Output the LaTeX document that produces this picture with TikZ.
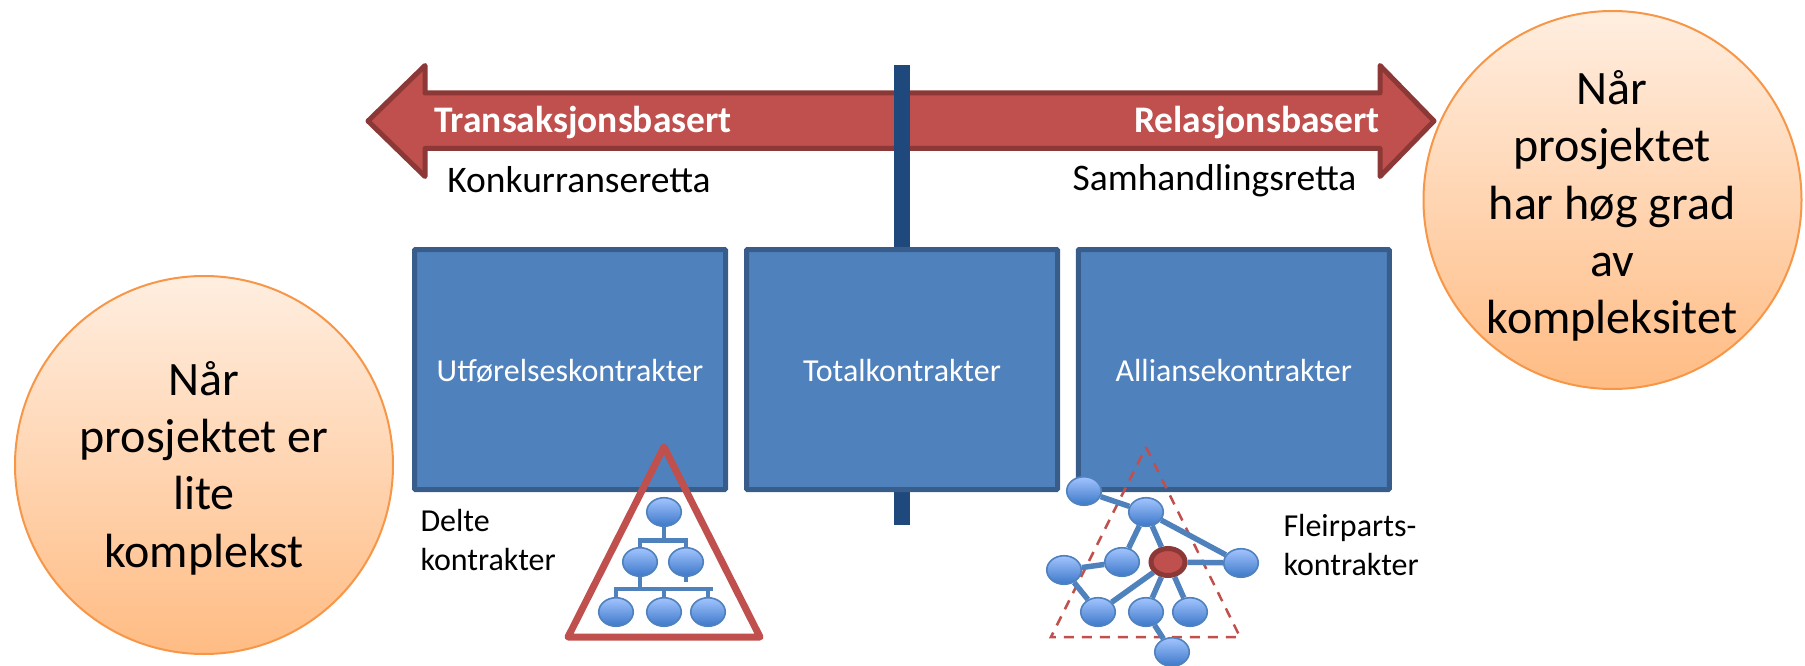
\documentclass[tikz,border=0pt]{standalone}
\usepackage{fontspec}
\setmainfont{Carlito}
\usetikzlibrary{positioning, calc, shapes.geometric}
\definecolor{boxblue}{RGB}{79,129,189}
\definecolor{boxline}{RGB}{56,93,138}
\definecolor{barblue}{RGB}{31,73,125}
\definecolor{arrowred}{RGB}{192,80,77}
\definecolor{arrowline}{RGB}{140,56,54}
\definecolor{nodetop}{RGB}{163,196,255}
\definecolor{nodebot}{RGB}{60,120,200}
\tikzset{
	kontrakt/.style={draw=boxline, fill=boxblue, line width=5pt, minimum width=311pt, minimum height=240pt, rounded corners=1pt},
	kontrakttekst/.style={text=white, font=\fontsize{32}{38}\selectfont},
	sirkel/.style={circle, draw={rgb,255:red,247;green,150;blue,70}, line width=2pt, top color={rgb,255:red,255;green,238;blue,224}, bottom color={rgb,255:red,255;green,188;blue,132}, minimum size=378pt, inner sep=0pt},
	sirkeltekst/.style={align=center, font=\fontsize{48}{57.4}\selectfont, inner sep=0pt},
	pil/.style={text=white, inner sep=0pt, font=\fontsize{37.5}{44}\selectfont\bfseries},
	merk/.style={inner sep=0pt, font=\fontsize{37.5}{44}\selectfont},
	liten/.style={align=left, font=\fontsize{32}{39}\selectfont},
	org/.style={ellipse, draw=boxblue, line width=1.6pt, top color=nodetop, bottom color=nodebot, minimum width=34.5pt, minimum height=28.5pt, inner sep=0pt},
	kjerne/.style={ellipse, draw=arrowline, fill=arrowred, line width=5pt, minimum width=34pt, minimum height=27pt, inner sep=0pt},
	kant/.style={draw=boxblue, line width=5.5pt},
	orgkant/.style={draw=boxblue, line width=4.5pt}
}
\begin{document}
\begin{tikzpicture}[x=1pt, y=-1pt]
	\useasboundingbox (0, 0) rectangle (1805, 666);
	\draw[arrowline, fill=arrowred, line width=5pt, line join=round] (368, 121) -- (425, 65.5) -- (425, 93) -- (1380, 93) -- (1380, 65.5) -- (1434, 121) -- (1380, 176.5) -- (1380, 148.5) -- (425, 148.5) -- (425, 176.5) -- cycle;
	\fill[barblue] (894, 65) rectangle (909.5, 525);
	\node[pil, anchor=west] (trans) at (434, 123) {Transaksjonsbasert};
	\node[pil, anchor=east] (rel) at (1380, 123) {Relasjonsbasert};
	\node[merk] (konk) at (579, 180) {Konkurranseretta};
	\node[merk] (samh) at (1214.5, 181) {Samhandlingsretta};
	\node[kontrakt] (utf) at (570, 369.5) {};
	\node[kontrakt] (tot) at (902, 369.5) {};
	\node[kontrakt] (all) at (1233.75, 369.5) {};
	\node[kontrakttekst] (utftekst) at (570, 371) {Utførelseskontrakter};
	\node[kontrakttekst] (tottekst) at (902, 371) {Totalkontrakter};
	\node[kontrakttekst] (alltekst) at (1233.75, 371) {Alliansekontrakter};
	\node[sirkel] (venstre) at (204, 465) {};
	\node[sirkel] (hoyre) at (1612.5, 200) {};
	\node[sirkeltekst] (vtekst) at (204, 468) {Når\\prosjektet er\\lite\\komplekst};
	\node[sirkeltekst] (htekst) at (1612, 206) {Når\\prosjektet\\har høg grad\\av\\kompleksitet};
	\node[liten, anchor=west] (delte) at (417, 540) {Delte\\kontrakter};
	\node[liten, anchor=west] (fleir) at (1280, 545) {Fleirparts-\\kontrakter};
	\coordinate (t1) at (664, 447);
	\coordinate (t2) at (760, 637);
	\coordinate (t3) at (568, 637);
	\draw[arrowred, line width=7pt, line join=round] (t1) -- (t2) -- (t3) -- cycle;
	\node[org] (o1) at (664, 512) {};
	\node[org] (o2) at (640, 562) {};
	\node[org] (o3) at (686, 562) {};
	\node[org] (o4) at (616, 612) {};
	\node[org] (o5) at (664, 612) {};
	\node[org] (o6) at (708, 612) {};
	\coordinate (bus1) at (664, 540.5);
	\coordinate (bus2) at (640, 589);
	\coordinate (bus3) at (713, 589);
	\coordinate (stub) at (686, 582);
	\draw[orgkant] (o1) -- (bus1) -| (o2);
	\draw[orgkant] (bus1) -| (o3);
	\draw[orgkant] (o3) -- (stub);
	\draw[orgkant] (o2) -- (bus2) -| (o4);
	\draw[orgkant] (bus2) -- (bus3);
	\draw[orgkant] (o5 |- bus2) -- (o5);
	\draw[orgkant] (o6 |- bus2) -- (o6);
	\coordinate (d1) at (1146, 447);
	\coordinate (d2) at (1240, 637);
	\coordinate (d3) at (1051, 637);
	\draw[arrowred, line width=2.5pt, dash pattern=on 10pt off 8pt] (d1) -- (d2) -- (d3) -- cycle;
	\node[org] (a) at (1084, 491) {};
	\node[org] (b) at (1146, 512) {};
	\node[org] (c) at (1122, 562) {};
	\node[org] (d) at (1064, 570) {};
	\node[kjerne] (e) at (1168, 562) {};
	\node[org] (f) at (1241, 563) {};
	\node[org] (g) at (1098, 612) {};
	\node[org] (h) at (1146, 612) {};
	\node[org] (i) at (1190, 612) {};
	\node[org] (j) at (1172, 652) {};
	\foreach \from/\to in {a/b, b/c, b/e, b/f, c/d, d/g, g/e, h/e, i/e, e/f, h/j}
		\draw[kant] (\from) -- (\to);
\end{tikzpicture}
\end{document}
